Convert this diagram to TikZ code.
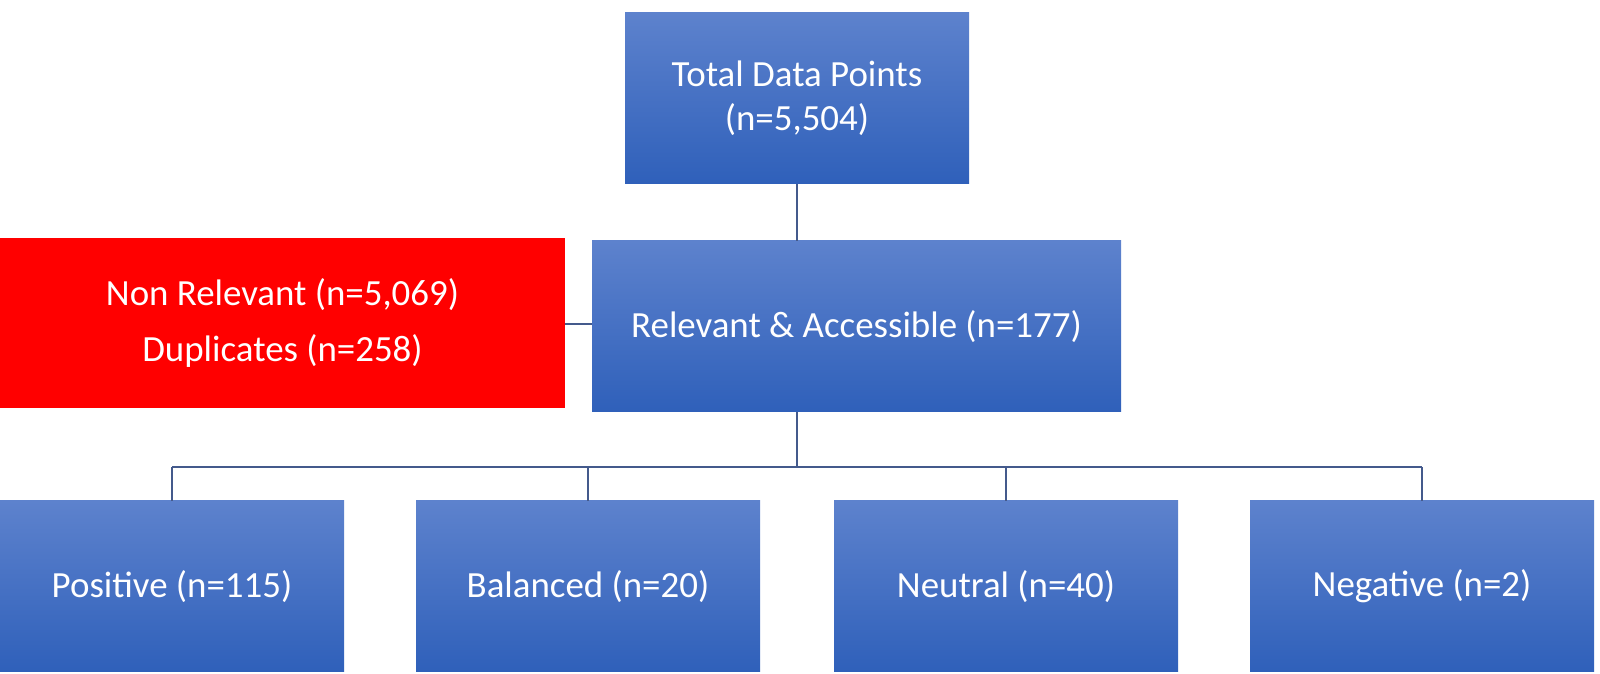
\documentclass[tikz,border=0pt]{standalone}
\usepackage{fontspec}
\setmainfont{Carlito}
\usepackage{xcolor}
\usepackage{tikz}
\usetikzlibrary{calc}

\definecolor{boxtop}{RGB}{93,130,205}
\definecolor{boxbot}{RGB}{47,96,186}
\definecolor{linkcol}{RGB}{68,90,140}

\begin{document}
\begin{tikzpicture}[every node/.style={rectangle, inner sep=0pt, text=white, align=center, font=\fontsize{21}{25}\selectfont},
  blue box/.style={top color=boxtop, bottom color=boxbot, minimum width=6.88cm, minimum height=3.42cm},
  link/.style={draw=linkcol, line width=1.1pt}]
  \useasboundingbox (0,0) rectangle (32,13.48);
  \node[blue box] (total) at (15.94,11.51) {Total Data Points\\(n=5,504)};
  \node[blue box, minimum width=10.58cm] (relevant) at (17.13,6.95) {Relevant \& Accessible (n=177)};
  \node[fill=red, minimum width=11.3cm, minimum height=3.4cm] (excluded) at (5.65,7.02) {Non Relevant (n=5,069)\\[7pt]Duplicates (n=258)};
  \node[blue box] (pos) at (3.44,1.75) {Positive (n=115)};
  \node[blue box] (bal) at (11.76,1.75) {Balanced (n=20)};
  \node[blue box] (neu) at (20.12,1.75) {Neutral (n=40)};
  \node[blue box] (neg) at (28.44,1.75) {Negative (n=2)};
  \coordinate (bus) at (15.94,4.14);
  % connectors
  \draw[link] (total.south) -- (total.south |- relevant.north);
  \draw[link] (excluded.east |- 0,7.0) -- (relevant.west |- 0,7.0);
  \draw[link] (relevant.south -| bus) -- (bus);
  \draw[link] (pos.north |- bus) -- (neg.north |- bus);
  \foreach \n in {pos,bal,neu,neg}
    \draw[link] (\n.north |- bus) -- (\n.north);
\end{tikzpicture}
\end{document}
